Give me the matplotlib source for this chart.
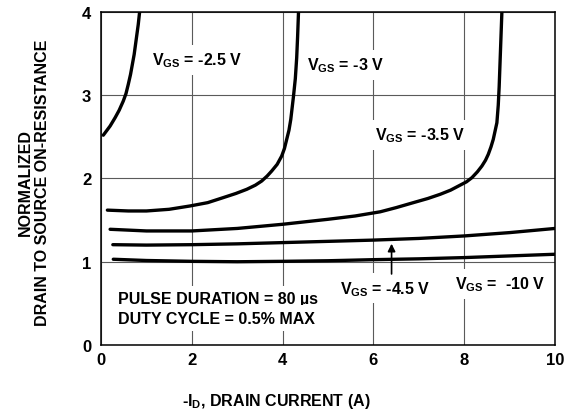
import matplotlib
matplotlib.use("Agg")
import matplotlib.pyplot as plt

plt.rcParams['font.family'] = ['Liberation Sans', 'DejaVu Sans']
plt.rcParams['font.weight'] = 'bold'
plt.rcParams['axes.labelweight'] = 'bold'
plt.rcParams['mathtext.fontset'] = 'custom'
plt.rcParams['mathtext.bf'] = 'Liberation Sans:bold'
plt.rcParams['mathtext.rm'] = 'Liberation Sans:bold'
plt.rcParams['mathtext.default'] = 'bf'

# curves
x_25 = [0.05, 0.2, 0.31, 0.4, 0.49, 0.55, 0.60, 0.65, 0.69, 0.73, 0.76, 0.79, 0.82, 0.85]
y_25 = [2.52, 2.63, 2.73, 2.82, 2.93, 3.02, 3.13, 3.25, 3.37, 3.49, 3.61, 3.73, 3.85, 4.0]

x_3 = [0.14, 0.6, 1.0, 1.5, 1.96, 2.35, 2.69, 2.97, 3.21, 3.40, 3.54, 3.66, 3.76, 3.88, 3.98,
       4.04, 4.09, 4.14, 4.18, 4.21, 4.24, 4.28, 4.31, 4.33, 4.35]
y_3 = [1.62, 1.61, 1.61, 1.63, 1.67, 1.71, 1.77, 1.82, 1.87, 1.92, 1.97, 2.03, 2.09, 2.17, 2.27,
       2.36, 2.47, 2.58, 2.71, 2.85, 2.99, 3.2, 3.45, 3.7, 4.0]

x_35 = [0.2, 1.0, 2.0, 3.0, 4.0, 5.0, 5.6, 6.15, 6.5, 6.88, 7.2, 7.47, 7.7, 7.91, 8.05, 8.17,
        8.29, 8.39, 8.47, 8.53, 8.59, 8.64, 8.68, 8.72, 8.75, 8.77, 8.79, 8.81, 8.83]
y_35 = [1.39, 1.37, 1.37, 1.40, 1.45, 1.51, 1.55, 1.60, 1.65, 1.71, 1.76, 1.81, 1.86, 1.92, 1.96, 2.01,
        2.08, 2.15, 2.22, 2.29, 2.38, 2.47, 2.57, 2.67, 2.88, 3.1, 3.4, 3.7, 4.0]

x_45 = [0.26, 1, 2, 3, 4, 5, 6, 7, 8, 9, 10]
y_45 = [1.205, 1.20, 1.205, 1.215, 1.23, 1.245, 1.26, 1.28, 1.31, 1.35, 1.40]

x_10 = [0.27, 1, 2, 3, 4, 5, 6, 7, 8, 9, 10]
y_10 = [1.03, 1.015, 1.005, 1.0, 1.005, 1.012, 1.025, 1.035, 1.05, 1.07, 1.09]

xticks = [0, 2, 4, 6, 8, 10]
yticks = [0, 1, 2, 3, 4]

fig = plt.figure(figsize=(5.65, 4.1), dpi=100)
ax = fig.add_axes([0.1788, 0.1561, 0.8035, 0.8122])

for xs, ys in [(x_25, y_25), (x_3, y_3), (x_35, y_35), (x_45, y_45), (x_10, y_10)]:
    ax.plot(xs, ys, color='black', lw=2.4, zorder=4, solid_capstyle='round', solid_joinstyle='round')

ax.set_xlim(0, 10)
ax.set_ylim(0, 4)
ax.set_xticks(xticks)
ax.set_yticks(yticks)
ax.tick_params(length=0, labelsize=12)
ax.tick_params(axis='x', pad=5)
ax.tick_params(axis='y', pad=7)
ax.grid(True, color='#5a5a5a', lw=0.8)
for s in ax.spines.values():
    s.set_linewidth(1.1)

box = dict(facecolor='white', edgecolor='none', boxstyle='square,pad=0.35')
fs = 11.5
ax.text(1.12, 3.37, 'V$_{GS}$ = -2.5 V', fontsize=fs, va='baseline', bbox=box)
ax.text(4.53, 3.31, 'V$_{GS}$ = -3 V', fontsize=fs, va='baseline', bbox=box)
ax.text(6.04, 2.47, 'V$_{GS}$ = -3.5 V', fontsize=fs, va='baseline', bbox=box)
ax.text(5.26, 0.625, 'V$_{GS}$ = -4.5 V', fontsize=fs, va='baseline', bbox=box)
ax.text(7.80, 0.68, 'V$_{GS}$ =  -10 V', fontsize=fs, va='baseline', bbox=box)
ax.text(0.38, 0.50, 'PULSE DURATION = 80 µs', fontsize=fs, va='baseline', bbox=box)
ax.text(0.38, 0.27, 'DUTY CYCLE = 0.5% MAX', fontsize=fs, va='baseline', bbox=box)

ax.annotate('', xy=(6.4, 1.25), xytext=(6.4, 0.82),
            arrowprops=dict(arrowstyle='-|>', color='black', lw=1.2, mutation_scale=11),
            zorder=5)

ax.set_xlabel('-I$_{D}$, DRAIN CURRENT (A)', fontsize=11.5, fontweight='bold')
ax.xaxis.set_label_coords(0.385, -0.138)
ax.set_ylabel('NORMALIZED\nDRAIN TO SOURCE ON-RESISTANCE', fontsize=11.5, fontweight='bold')
ax.yaxis.set_label_coords(-0.112, 0.49)

plt.savefig('out.png', dpi=100)
